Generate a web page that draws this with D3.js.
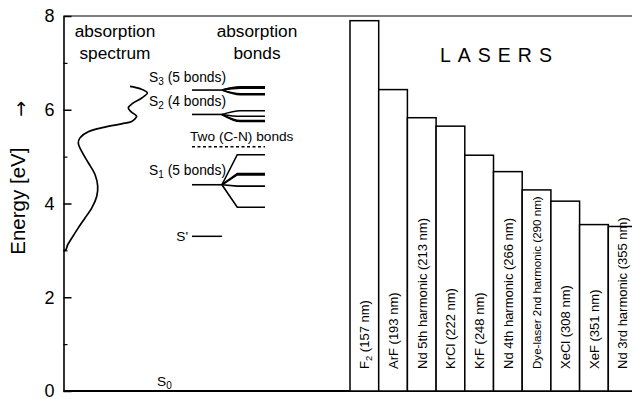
<!DOCTYPE html>
<html>
<head>
<meta charset="utf-8">
<script src="https://cdn.jsdelivr.net/npm/d3@7"></script>
<style>
    body { margin: 0; background: #fff; }
    svg { font-family: "Liberation Sans", Arial, sans-serif; }
    .frame { stroke: #000; stroke-width: 1.5; fill: none; }
    .bar { fill: #fff; stroke: #000; stroke-width: 1.5; }
    .level { stroke: #000; stroke-width: 1.6; fill: none; }
</style>
</head>
<body>
<svg width="632" height="399"></svg>
<script>
// energy axis
const energyTicks = [0, 2, 4, 6, 8];
const energyMinor = [1, 3, 5, 7];

// absorption spectrum (energy in eV, absorbance in arb. units)
const specEnergy = [6.50, 6.45, 6.36, 6.25, 6.13, 6.04, 5.96, 5.88, 5.86, 5.75, 5.70, 5.63, 5.53, 5.40, 5.29, 5.11, 4.87, 4.62, 4.37, 4.15, 3.90, 3.69, 3.48, 3.26, 3.12, 3.01, 3.00];
const specAbs = [66.5, 76.5, 83.8, 78.2, 68.8, 64.8, 67.5, 72.5, 73.2, 68.2, 58.2, 41.5, 24.8, 16.5, 14.8, 18.2, 24.8, 31.5, 34.2, 33.2, 28.2, 21.5, 14.8, 8.2, 4.2, 2.2, 0];

// absorption bonds (eV)
const stateNames = ["3", "2", "1"];
const stateBondCount = [5, 4, 5];
const stateEnergy = [6.42, 5.90, 4.40];
const stateBonds = [
    [6.49, 6.48, 6.46, 6.34, 6.32],
    [5.98, 5.86, 5.77, 5.75],
    [5.04, 4.64, 4.61, 4.37, 3.92]
];
const cnBondEnergy = 5.21;
const sPrimeEnergy = 3.30;

// lasers
const laserNames = ["F2", "ArF", "Nd 5th harmonic", "KrCl", "KrF", "Nd 4th harmonic", "Dye-laser 2nd harmonic", "XeCl", "XeF", "Nd 3rd harmonic"];
const laserWavelengths = [157, 193, 213, 222, 248, 266, 290, 308, 351, 355];
const laserEnergies = [7.90, 6.43, 5.83, 5.65, 5.03, 4.68, 4.29, 4.05, 3.55, 3.51];

const svg = d3.select("svg");
const plotLeft = 63.5, plotRight = 637, plotTop = 16, plotBottom = 391;

const y = d3.scaleLinear().domain([0, 8]).range([plotBottom, plotTop]);
const xSpec = d3.scaleLinear().domain([0, 100]).range([plotLeft, plotLeft + 100]);
const xBond = d3.scaleLinear().domain([0, 100]).range([192, 265]);
const xLaser = d3.scaleBand().domain(laserNames).range([350, plotRight]).padding(0);

// frame lines top and bottom
svg.append("line").attr("class", "frame")
    .attr("x1", plotLeft).attr("x2", plotRight).attr("y1", y(8)).attr("y2", y(8))
    .style("stroke-width", 1.2);
svg.append("line").attr("class", "frame")
    .attr("x1", plotLeft).attr("x2", plotRight).attr("y1", y(0)).attr("y2", y(0))
    .style("stroke-width", 2);

// y axis
const yAxis = svg.append("g")
    .attr("transform", `translate(${plotLeft},0)`)
    .call(d3.axisLeft(y).tickValues(energyTicks).tickSizeInner(-8).tickSizeOuter(0).tickPadding(9));
yAxis.select(".domain").attr("stroke-width", 1.6);
yAxis.selectAll(".tick line").attr("stroke-width", 1.5);
yAxis.selectAll(".tick text")
    .attr("font-family", "'Liberation Sans', Arial, sans-serif")
    .attr("font-size", 18)
    .attr("fill", "#000")
    .attr("dy", "0.33em");

const yMinor = svg.append("g")
    .attr("transform", `translate(${plotLeft},0)`)
    .call(d3.axisLeft(y).tickValues(energyMinor).tickSize(-4).tickFormat(""));
yMinor.select(".domain").remove();
yMinor.selectAll(".tick line").attr("stroke-width", 1.2);

svg.append("text")
    .attr("transform", `translate(24.5,${y(4.05)}) rotate(-90)`)
    .attr("text-anchor", "middle")
    .attr("font-size", 20.5)
    .text("Energy [eV]");
svg.append("text")
    .attr("transform", `translate(26.5,${y(6.02)}) rotate(-90)`)
    .attr("text-anchor", "middle")
    .attr("font-size", 19)
    .attr("font-family", "DejaVu Sans")
    .text("\u2192");

// panel titles
[["absorption", "spectrum", xSpec(51.5)], ["absorption", "bonds", 257]].forEach(t => {
    svg.append("text").attr("x", t[2]).attr("y", 37).attr("text-anchor", "middle")
        .attr("font-size", 17.3).text(t[0]);
    svg.append("text").attr("x", t[2]).attr("y", 59).attr("text-anchor", "middle")
        .attr("font-size", 17.3).text(t[1]);
});

// absorption spectrum curve
const specLine = d3.line()
    .x((d, i) => xSpec(specAbs[i]))
    .y(d => y(d))
    .curve(d3.curveCatmullRom.alpha(0.5));
svg.append("path")
    .attr("d", specLine(specEnergy))
    .attr("fill", "none")
    .attr("stroke", "#000")
    .attr("stroke-width", 1.7);

// bonds diagram
const fan = d3.line().x(d => xBond(d[0])).y(d => y(d[1]));
stateNames.forEach((s, i) => {
    const e0 = stateEnergy[i];
    svg.append("path").attr("class", "level")
        .attr("d", fan([[0, e0], [41, e0]]));
    stateBonds[i].forEach(b => {
        const knee = i === 2 ? 62 : 66;
        svg.append("path").attr("class", "level")
            .attr("d", (i === 2 ? fan.curve(d3.curveLinear) : fan.curve(d3.curveMonotoneX))([[41, e0], [knee, b], [100, b]]));
    });
    const lab = svg.append("text")
        .attr("x", 226)
        .attr("y", y(e0) - (i === 2 ? 10 : 8))
        .attr("text-anchor", "end")
        .attr("font-size", 13.8);
    lab.append("tspan").text("S");
    lab.append("tspan").attr("font-size", 10).attr("dy", 3).text(s);
    lab.append("tspan").attr("dy", -3).text(` (${stateBondCount[i]} bonds)`);
});

svg.append("line")
    .attr("x1", xBond(0)).attr("x2", xBond(100))
    .attr("y1", y(cnBondEnergy)).attr("y2", y(cnBondEnergy))
    .attr("stroke", "#000").attr("stroke-width", 1.5)
    .attr("stroke-dasharray", "3,2.5");
svg.append("text")
    .attr("x", 190).attr("y", y(cnBondEnergy) - 6)
    .attr("font-size", 13.7)
    .text("Two (C-N) bonds");

svg.append("line")
    .attr("x1", xBond(0)).attr("x2", xBond(41))
    .attr("y1", y(sPrimeEnergy)).attr("y2", y(sPrimeEnergy))
    .attr("stroke", "#000").attr("stroke-width", 1.5);
svg.append("text")
    .attr("x", 188).attr("y", y(sPrimeEnergy) + 4.5)
    .attr("text-anchor", "end")
    .attr("font-size", 13.7)
    .text("S'");

const s0 = svg.append("text")
    .attr("x", 157).attr("y", y(0) - 5)
    .attr("font-size", 13.7);
s0.append("tspan").text("S");
s0.append("tspan").attr("font-size", 10).attr("dy", 3).text("0");

// lasers
svg.append("text")
    .attr("x", 440).attr("y", 62)
    .attr("font-size", 19.5)
    .attr("letter-spacing", 7)
    .text("LASERS");

svg.append("g")
    .selectAll("rect")
    .data(laserNames)
    .enter().append("rect")
    .attr("class", "bar")
    .attr("x", d => xLaser(d))
    .attr("width", xLaser.bandwidth())
    .attr("y", (d, i) => y(laserEnergies[i]))
    .attr("height", (d, i) => y(0) - y(laserEnergies[i]));

const labels = svg.append("g")
    .selectAll("text")
    .data(laserNames)
    .enter().append("text")
    .attr("transform", d => `translate(${xLaser(d) + xLaser.bandwidth() / 2 + 4.8},369) rotate(-90)`)
    .attr("font-size", d => d.startsWith("Dye") ? 11.6 : 13);

labels.each(function (d, i) {
    const t = d3.select(this);
    if (d === "F2") {
        t.append("tspan").text("F");
        t.append("tspan").attr("font-size", 9.5).attr("dy", 3).text("2");
        t.append("tspan").attr("dy", -3).text(` (${laserWavelengths[i]} nm)`);
    } else {
        t.text(`${d} (${laserWavelengths[i]} nm)`);
    }
});
</script>
</body>
</html>
